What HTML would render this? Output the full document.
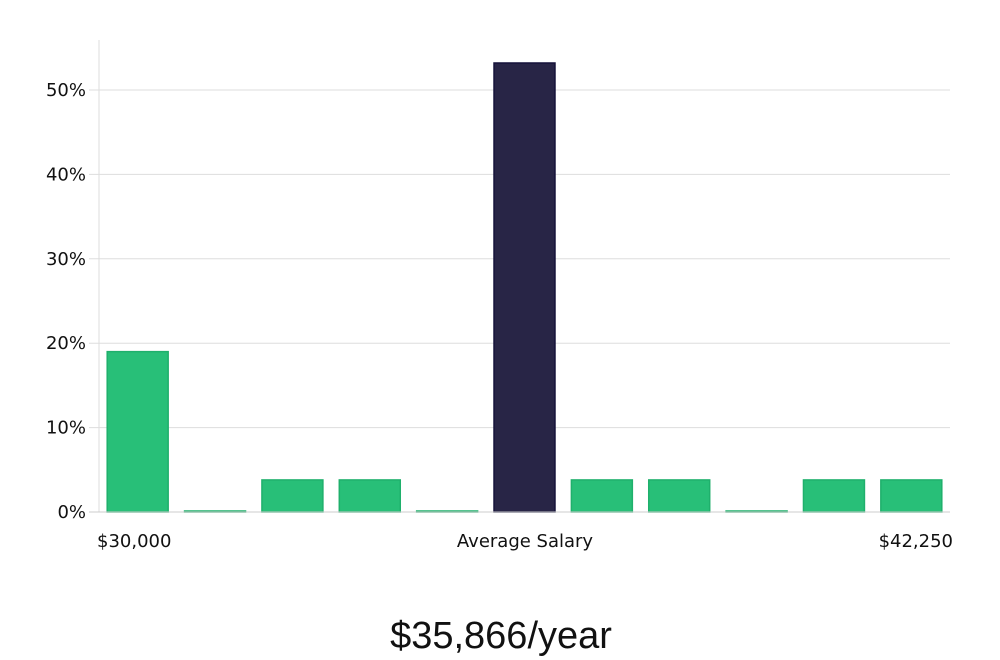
<!DOCTYPE html>
<html><head><meta charset="utf-8"><style>
html,body{margin:0;padding:0;background:#fff;width:1000px;height:660px;overflow:hidden}
svg text{font-family:"DejaVu Sans","Liberation Sans",sans-serif}
</style></head><body>
<svg id="chart" width="1000" height="660" xmlns="http://www.w3.org/2000/svg">
<g id="grid"></g>
<g id="bars"></g>
<g id="yticks"></g>
<line x1="99" y1="40" x2="99" y2="512" stroke="#ddd" stroke-width="1"/>
<line x1="89" y1="512" x2="950" y2="512" stroke="#ccc" stroke-width="1"/>
<text x="97" y="547" font-size="18" fill="#111">$30,000</text>
<text x="525" y="547" font-size="18" fill="#111" text-anchor="middle">Average Salary</text>
<text x="953" y="547" font-size="18" fill="#111" text-anchor="end">$42,250</text>
<text x="501" y="648" font-size="38" fill="#111" text-anchor="middle" style="font-family:'Liberation Sans Narrow','Liberation Sans',sans-serif">$35,866/year</text>
</svg>
<script>
const categories = ["b1","b2","b3","b4","b5","b6","b7","b8","b9","b10","b11"];
const values = [19, 0, 3.8, 3.8, 0, 53.2, 3.8, 3.8, 0, 3.8, 3.8];
const highlight = [false,false,false,false,false,true,false,false,false,false,false];
const yTicks = [0,10,20,30,40,50];
const yTickLabels = ["0%","10%","20%","30%","40%","50%"];
const NS="http://www.w3.org/2000/svg";
const x0=99,x1=950,y0=512,pxPer=8.44;
const y=v=>y0-v*pxPer;
const band=(x1-x0)/categories.length;
const xb=i=>x0+i*band;
const grid=document.getElementById('grid'),yt=document.getElementById('yticks'),bars=document.getElementById('bars');
yTicks.forEach((t,i)=>{
  if(t>0){const l=document.createElementNS(NS,'line');
  
  
  l.setAttribute('x1',89);l.setAttribute('x2',x1);l.setAttribute('y1',y(t));l.setAttribute('y2',y(t));
  l.setAttribute('stroke','#ddd');grid.appendChild(l);}
  const tx=document.createElementNS(NS,'text');
  
  
  tx.setAttribute('x',86);tx.setAttribute('y',y(t)+6);tx.setAttribute('text-anchor','end');
  tx.setAttribute('font-size','18');tx.setAttribute('fill','#111');tx.textContent=yTickLabels[i];yt.appendChild(tx);
});
values.forEach((v,i)=>{
  const r=document.createElementNS(NS,'rect');
  
  
  const h=Math.max(v*pxPer,1);
  r.setAttribute('x',xb(i)+8.2);r.setAttribute('width',band-16.4);
  r.setAttribute('y',y0-h);r.setAttribute('height',h);
  r.setAttribute('fill',highlight[i]?'#282546':'#28bf78');
  r.setAttribute('stroke',highlight[i]?'#15123a':'#1fb06c');r.setAttribute('stroke-width','1.5');
  bars.appendChild(r);
});
</script>
</body></html>
